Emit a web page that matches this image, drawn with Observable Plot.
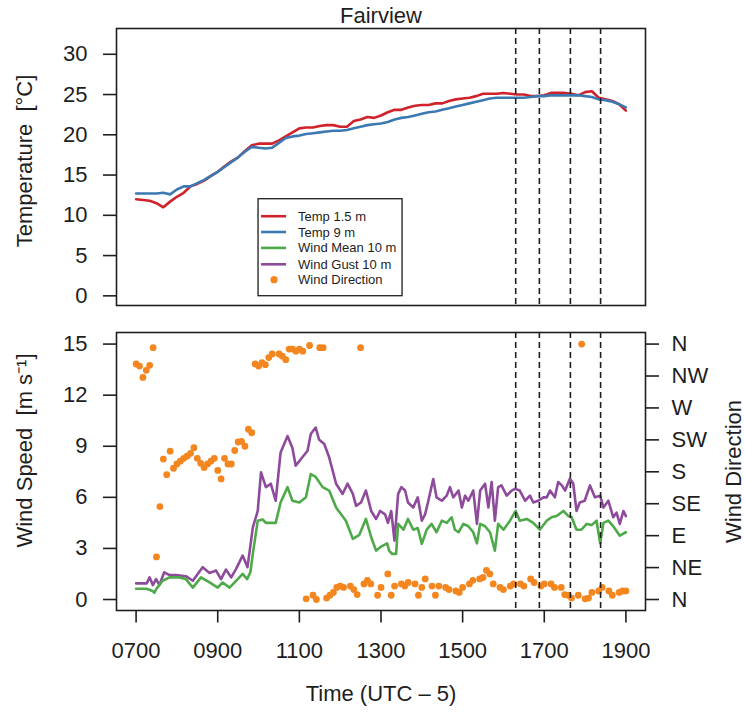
<!DOCTYPE html>
<html>
<head>
<meta charset="utf-8">
<script src="https://cdn.jsdelivr.net/npm/d3@7"></script>
<script src="https://cdn.jsdelivr.net/npm/@observablehq/plot@0.6"></script>
<style>
  body { margin: 0; background: #fff; }
  #chart { position: relative; width: 745px; height: 717px; background: #fff; }
  #chart svg { position: absolute; left: 0; }
</style>
</head>
<body>
<div id="chart"></div>
<script>
// ---- Fairview station, one day of 10-min temperatures (°C), 07:00-19:00 ----
const tempStartHour = 7;
const tempStepMinutes = 10;
const temp15m = [
  12.0, 11.9, 11.8, 11.5, 11.0, 11.7,
  12.3, 12.8, 13.6, 13.9, 14.3, 14.9,
  15.4, 16.1, 16.7, 17.2, 18.0, 18.7,
  18.9, 18.9, 18.9, 19.3, 19.8, 20.3,
  20.8, 20.9, 20.9, 21.1, 21.2, 21.2,
  21.0, 21.0, 21.7, 21.9, 22.2, 22.1,
  22.4, 22.8, 23.1, 23.1, 23.4, 23.6,
  23.7, 23.7, 23.9, 23.9, 24.2, 24.4,
  24.5, 24.6, 24.8, 25.1, 25.1, 25.1,
  25.2, 25.1, 25.0, 25.0, 24.8, 24.8,
  24.9, 25.2, 25.2, 25.2, 25.1, 24.9,
  25.3, 25.4, 24.6, 24.4, 24.2, 23.8,
  23.0
];
const temp9m = [
  12.7, 12.7, 12.7, 12.7, 12.8, 12.6,
  13.2, 13.6, 13.6, 14.0, 14.4, 14.9,
  15.4, 16.0, 16.6, 17.2, 17.9, 18.5,
  18.4, 18.3, 18.4, 19.0, 19.6, 19.8,
  19.9, 20.1, 20.2, 20.3, 20.4, 20.5,
  20.5, 20.6, 20.8, 21.0, 21.2, 21.3,
  21.4, 21.6, 21.9, 22.1, 22.2, 22.4,
  22.6, 22.8, 22.9, 23.1, 23.3, 23.5,
  23.7, 23.9, 24.1, 24.3, 24.5, 24.6,
  24.6, 24.6, 24.6, 24.6, 24.7, 24.8,
  24.8, 24.9, 24.9, 24.9, 24.9, 24.9,
  24.8, 24.7, 24.4, 24.3, 24.1, 23.8,
  23.4
];

// ---- 10 m wind gust and mean speed (m/s), time in decimal hours ----
const gustHour = [
  7.00, 7.26, 7.33, 7.41, 7.49, 7.57, 7.69, 7.82, 7.98, 8.22, 8.39, 8.63, 8.80, 8.96,
  9.08, 9.20, 9.33, 9.45, 9.61, 9.73, 9.86, 9.98, 10.06, 10.18, 10.30, 10.42, 10.54,
  10.71, 10.83, 10.91, 11.04, 11.20, 11.28, 11.40, 11.48, 11.61, 11.73, 11.90, 12.06,
  12.18, 12.31, 12.39, 12.51, 12.63, 12.76, 12.88, 12.98, 13.10, 13.17, 13.25, 13.33,
  13.42, 13.50, 13.59, 13.66, 13.79, 13.90, 14.00, 14.08, 14.16, 14.28, 14.36, 14.49,
  14.61, 14.69, 14.77, 14.90, 14.98, 15.06, 15.14, 15.26, 15.35, 15.43, 15.55, 15.63,
  15.71, 15.79, 15.87, 15.95, 16.08, 16.20, 16.28, 16.40, 16.53, 16.65, 16.73, 16.85,
  16.98, 17.06, 17.14, 17.26, 17.34, 17.43, 17.51, 17.63, 17.71, 17.79, 17.87, 17.99,
  18.12, 18.24, 18.37, 18.45, 18.57, 18.69, 18.77, 18.85, 18.94, 19.00
];
const gustSpeed = [
  0.95, 0.95, 1.3, 0.85, 1.2, 0.85, 1.6, 1.43, 1.43, 1.37, 1.1, 1.9, 1.56, 1.7,
  1.2, 1.76, 1.3, 1.8, 2.58, 1.9, 4.24, 5.2, 7.47, 6.6, 6.8, 5.8, 8.64,
  9.6, 8.9, 7.86, 8.25, 8.74, 9.72, 10.1, 9.4, 9.13, 8.35, 6.8, 6.2,
  6.8, 6.2, 5.5, 5.7, 6.4, 5.2, 4.73, 5.2, 5.0, 4.5, 5.2, 3.46,
  6.2, 6.6, 6.4, 5.7, 5.4, 6.0, 4.63, 5.0, 5.8, 7.08, 6.0, 5.8,
  6.1, 6.6, 6.0, 6.4, 5.4, 6.1, 5.8, 6.4, 4.44, 6.4, 6.8, 5.4,
  6.9, 4.63, 6.6, 6.7, 6.1, 6.4, 6.5, 6.4, 5.8, 6.1, 5.7, 5.8,
  6.0, 6.0, 6.4, 6.0, 6.9, 6.7, 6.4, 7.1, 6.8, 5.2, 5.7, 5.8,
  6.7, 6.0, 6.1, 5.4, 5.8, 4.83, 5.1, 4.44, 5.2, 4.9
];
const meanHour = [
  7.00, 7.26, 7.40, 7.45, 7.49, 7.65, 7.82, 8.06, 8.22, 8.39, 8.59, 8.80, 9.00, 9.12,
  9.29, 9.45, 9.61, 9.72, 9.80, 9.86, 9.98, 10.10, 10.18, 10.42, 10.54, 10.71, 10.83,
  11.00, 11.16, 11.28, 11.40, 11.57, 11.73, 11.90, 12.14, 12.31, 12.47, 12.63, 12.76,
  12.88, 12.98, 13.15, 13.20, 13.27, 13.37, 13.42, 13.55, 13.66, 13.79, 13.90, 14.00,
  14.12, 14.24, 14.36, 14.49, 14.61, 14.73, 14.81, 14.90, 15.02, 15.14, 15.26, 15.35,
  15.43, 15.55, 15.67, 15.79, 15.87, 16.00, 16.16, 16.30, 16.40, 16.57, 16.73, 16.89,
  17.06, 17.18, 17.30, 17.47, 17.59, 17.67, 17.79, 17.91, 18.04, 18.16, 18.28, 18.37,
  18.45, 18.57, 18.69, 18.85, 19.00
];
const meanSpeed = [
  0.63, 0.63, 0.5, 0.4, 0.6, 1.1, 1.3, 1.3, 1.2, 0.7, 1.3, 1.0, 0.7, 1.0,
  0.7, 1.1, 1.5, 1.2, 1.6, 2.68, 4.63, 4.7, 4.5, 4.5, 5.7, 6.6, 5.8,
  5.7, 6.0, 7.37, 7.2, 6.6, 6.4, 5.4, 4.63, 3.56, 3.8, 4.73, 3.66,
  2.87, 3.07, 3.3, 2.87, 2.68, 2.68, 4.44, 4.1, 4.73, 4.1, 4.2, 3.27,
  4.1, 4.44, 3.95, 4.63, 4.5, 4.83, 4.1, 3.95, 4.44, 4.3, 3.95, 3.3,
  4.44, 4.3, 3.95, 2.87, 4.44, 4.1, 4.63, 5.2, 4.63, 4.73, 4.5, 4.1,
  4.63, 4.83, 4.9, 5.2, 4.9, 4.83, 4.1, 4.1, 4.44, 4.37, 4.63, 3.3,
  4.5, 4.63, 4.3, 3.75, 3.95
];

// ---- 10 m wind direction (degrees from north), 5-min samples ----
const dirTime = [
  "07:00","07:05","07:10","07:15","07:20","07:25","07:30","07:35","07:40","07:45","07:50","07:55",
  "08:00","08:05","08:10","08:15","08:20","08:25","08:30","08:35","08:40","08:45","08:50","08:55",
  "09:00","09:05","09:10","09:15","09:20","09:25","09:30","09:35","09:40","09:45","09:50","09:55",
  "10:00","10:05","10:10","10:15","10:20","10:30","10:35","10:40","10:45","10:50","10:55",
  "11:00","11:05","11:10","11:15","11:20","11:25","11:30","11:35","11:40","11:45","11:50","11:55",
  "12:00","12:05","12:15","12:20","12:25","12:30","12:35","12:40","12:45","12:55",
  "13:00","13:10","13:15","13:20","13:30","13:35","13:40","13:50","13:55",
  "14:00","14:05","14:15","14:20","14:25","14:35","14:40","14:50","14:55",
  "15:00","15:10","15:15","15:25","15:30","15:35","15:40","15:45","15:55",
  "16:00","16:10","16:15","16:25","16:30","16:40","16:45","16:55",
  "17:00","17:10","17:15","17:25","17:30","17:35","17:40","17:50","17:55",
  "18:00","18:05","18:10","18:20","18:25","18:35","18:40","18:50","18:55","19:00"
];
const dirDegrees = [
  332, 329, 313, 323, 330, 355, 60, 131, 198, 176, 209, 185,
  191, 195, 199, 202, 206, 214, 199, 192, 186, 191, 195, 199,
  182, 170, 199, 191, 191, 210, 222, 223, 216, 240, 235, 332,
  329, 334, 331, 341, 346, 346, 343, 338, 353, 353, 350,
  353, 350, 1, 358, 6, 0, 355, 355, 2, 6, 10, 17,
  19, 17, 19, 14, 7, 355, 22, 27, 22, 6,
  17, 36, 6, 19, 22, 19, 24, 22, 6,
  17, 29, 19, 6, 19, 17, 14, 12, 10,
  17, 22, 27, 29, 31, 41, 36, 22, 17,
  14, 19, 22, 22, 19, 29, 24, 19,
  22, 22, 17, 17, 7, 6, 2, 6, 360,
  1, 2, 10, 12, 17, 12, 6, 10, 12, 12
];

// ---- axis ticks and labels ----
const hourTicks = [7, 9, 11, 13, 15, 17, 19];
const tempTicks = [0, 5, 10, 15, 20, 25, 30];
const speedTicks = [0, 3, 6, 9, 12, 15];
const compassDegrees = [0, 45, 90, 135, 180, 225, 270, 315, 360];
const compassLabels = ["N", "NE", "E", "SE", "S", "SW", "W", "NW", "N"];
// times of the four marked events (decimal hours)
const eventHours = [16.30, 16.88, 17.64, 18.38];

const seriesNames = ["Temp 1.5 m", "Temp 9 m", "Wind Mean 10 m", "Wind Gust 10 m", "Wind Direction"];
const seriesColors = ["#d0222b", "#3b79b2", "#4ea949", "#8e4b9c", "#f4861f"];

// ---- derived tables ----
const clock = s => { const [h, m] = s.split(":").map(Number); return h + m / 60; };
const tempRows = temp15m.map((t, i) => ({
  hour: tempStartHour + i * tempStepMinutes / 60, t15: t, t9: temp9m[i]
}));
const gustRows = gustHour.map((h, i) => ({hour: h, v: gustSpeed[i]}));
const meanRows = meanHour.map((h, i) => ({hour: h, v: meanSpeed[i]}));
// direction is drawn on the speed scale: 0-360 degrees spans 0-15 m/s
const dirToSpeed = d => d * 15 / 360;
const dirRows = dirTime.map((s, i) => ({hour: clock(s), v: dirToSpeed(dirDegrees[i])}));

const ink = "#1e1e1e";
const font = "'Liberation Sans', Arial, sans-serif";
const xDomain = [6.52, 19.48];
const hhmm = h => String(h * 100).padStart(4, "0");
const label = {fontSize: 22, fill: ink, textAnchor: "middle", lineAnchor: "middle"};

const topPlot = Plot.plot({
  width: 745, height: 315,
  marginTop: 28, marginBottom: 10, marginLeft: 116, marginRight: 100,
  x: {domain: xDomain, axis: null},
  y: {domain: [-1.2, 33.2], axis: null},
  style: {fontFamily: font, fontSize: "22px", color: ink, background: "white", overflow: "visible"},
  marks: [
    Plot.line(tempRows, {x: "hour", y: "t15", stroke: seriesColors[0], strokeWidth: 2.6}),
    Plot.line(tempRows, {x: "hour", y: "t9", stroke: seriesColors[1], strokeWidth: 2.6}),
    Plot.ruleX(eventHours, {stroke: ink, strokeWidth: 1.6, strokeDasharray: "6,4"}),
    Plot.frame({stroke: ink, strokeWidth: 1.6}),
    Plot.axisY({ticks: tempTicks, tickSize: 13, tickPadding: 16, label: null, strokeWidth: 1.6, fontSize: 22}),
    Plot.text(["Fairview"], {frameAnchor: "top", dy: -13, ...label}),
    Plot.text(["Temperature\u00a0\u00a0[°C]"], {frameAnchor: "left", dx: -92, dy: -6, rotate: -90, ...label})
  ]
});
topPlot.style.top = "0px";

const bottomPlot = Plot.plot({
  width: 745, height: 402,
  marginTop: 17, marginBottom: 107, marginLeft: 116, marginRight: 100,
  x: {domain: xDomain},
  y: {domain: [-0.645, 15.68]},
  style: {fontFamily: font, fontSize: "22px", color: ink, background: "white", overflow: "visible"},
  marks: [
    Plot.line(gustRows, {x: "hour", y: "v", stroke: seriesColors[3], strokeWidth: 2.6}),
    Plot.line(meanRows, {x: "hour", y: "v", stroke: seriesColors[2], strokeWidth: 2.6}),
    Plot.dot(dirRows, {x: "hour", y: "v", r: 3.4, fill: seriesColors[4], stroke: null}),
    Plot.ruleX(eventHours, {stroke: ink, strokeWidth: 1.6, strokeDasharray: "6,4"}),
    Plot.frame({stroke: ink, strokeWidth: 1.6}),
    Plot.axisX({ticks: hourTicks, tickFormat: hhmm, tickSize: 12.5, tickPadding: 19, label: null, strokeWidth: 1.6, fontSize: 22}),
    Plot.axisY({ticks: speedTicks, tickSize: 13, tickPadding: 16, label: null, strokeWidth: 1.6, fontSize: 22}),
    Plot.axisY({anchor: "right", ticks: compassDegrees.map(dirToSpeed), tickFormat: (d, i) => compassLabels[i],
      tickSize: 13, tickPadding: 13, label: null, strokeWidth: 1.6, fontSize: 22}),
    Plot.text(["Wind Speed\u00a0\u00a0[m s⁻¹]"], {frameAnchor: "left", dx: -92, dy: -21, rotate: -90, ...label}),
    Plot.text(["Wind Direction"], {frameAnchor: "right", dx: 88, rotate: -90, ...label}),
    Plot.text(["Time (UTC \u2013 5)"], {frameAnchor: "bottom", dy: 83, ...label})
  ]
});
bottomPlot.style.top = "315px";

const chart = document.getElementById("chart");
chart.append(topPlot, bottomPlot);

// legend box anchored at (10:00, 12 °C) in the temperature panel
const sx = topPlot.scale("x"), sy = topPlot.scale("y");
const lx = sx.apply(10), ly = sy.apply(12);
const leg = d3.select(topPlot).append("g").attr("transform", `translate(${lx},${ly})`);
leg.append("rect").attr("width", 144).attr("height", 97)
  .attr("fill", "white").attr("stroke", ink).attr("stroke-width", 1.3);
const rowY = [17.5, 33.3, 49.2, 65.6, 81];
seriesNames.forEach((name, i) => {
  if (i < 4) {
    leg.append("line").attr("x1", 3).attr("x2", 28).attr("y1", rowY[i]).attr("y2", rowY[i])
      .attr("stroke", seriesColors[i]).attr("stroke-width", 2.6);
  } else {
    leg.append("circle").attr("cx", 16).attr("cy", rowY[i]).attr("r", 3.6).attr("fill", seriesColors[i]);
  }
  leg.append("text").attr("x", 40).attr("y", rowY[i]).attr("dy", "0.35em")
    .attr("text-anchor", "start").attr("font-size", 13).attr("font-family", font)
    .attr("fill", ink).text(name);
});
</script>
</body>
</html>
